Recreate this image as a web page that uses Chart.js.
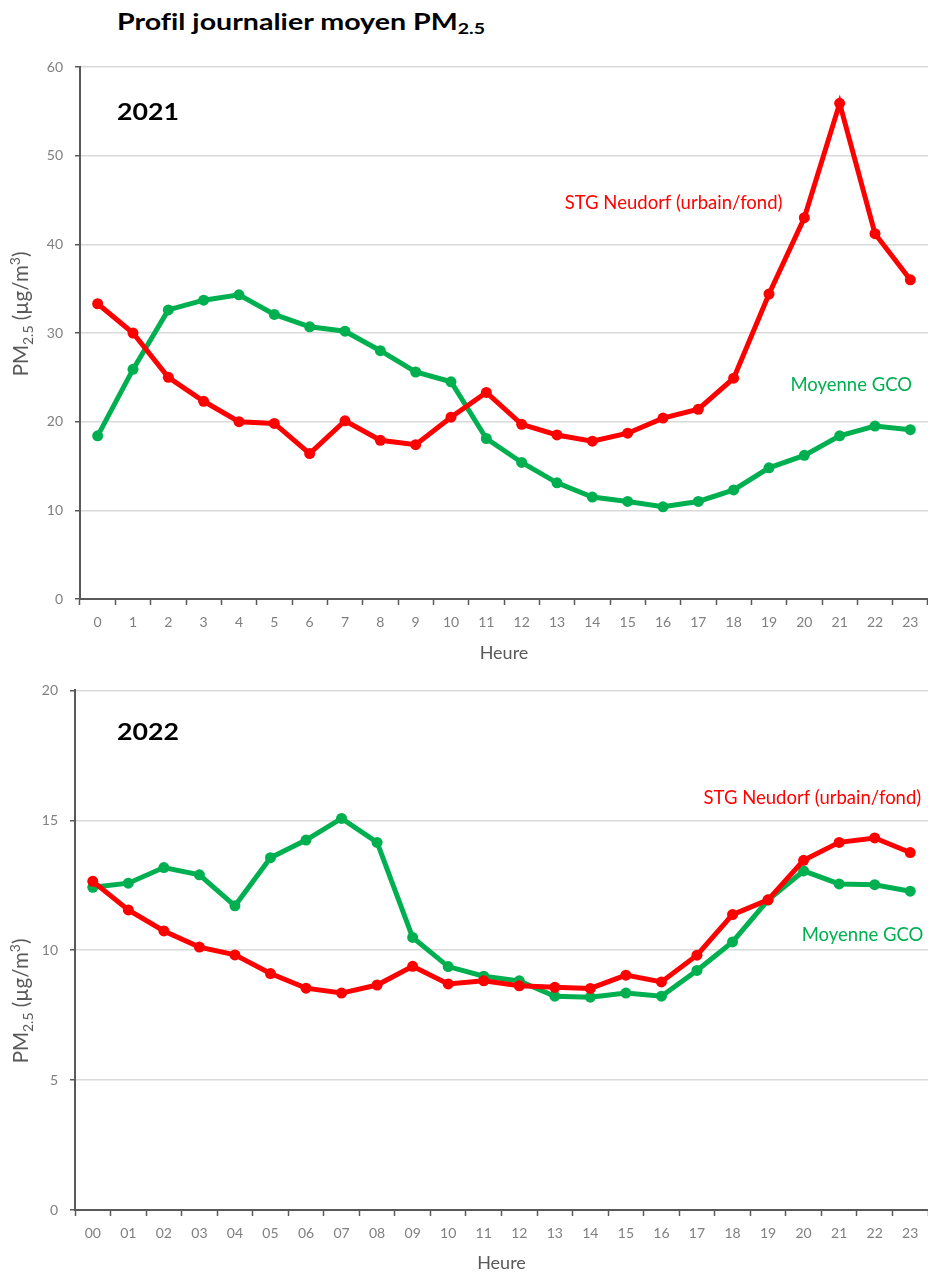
<!DOCTYPE html>
<html>
<head>
<meta charset="utf-8">
<script src="https://cdn.jsdelivr.net/npm/chart.js@4.4.0/dist/chart.umd.min.js"></script>
<style>
  body { margin: 0; background: #fff; width: 928px; height: 1274px; position: relative; overflow: hidden; font-family: Lato, sans-serif; }
  #title { position: absolute; left: 117px; top: 9px; font-weight: bold; font-size: 22px; line-height: 26px; color: #000; white-space: nowrap; transform: scaleX(1.3); transform-origin: 0 0; font-variant-ligatures: none; }
  #title sub { font-size: 15px; vertical-align: -4px; line-height: 0; }
  canvas { position: absolute; left: 0; }
  #c1 { top: 0; }
  #c2 { top: 670px; }
</style>
</head>
<body>
<div id="title">Profil journalier moyen PM<sub>2.5</sub></div>
<canvas id="c1" width="928" height="670"></canvas>
<canvas id="c2" width="928" height="604"></canvas>
<script>
// heures
const hours2021 = ['0', '1', '2', '3', '4', '5', '6', '7', '8', '9', '10', '11',
  '12', '13', '14', '15', '16', '17', '18', '19', '20', '21', '22', '23'];
const hours2022 = ['00', '01', '02', '03', '04', '05', '06', '07', '08', '09', '10', '11',
  '12', '13', '14', '15', '16', '17', '18', '19', '20', '21', '22', '23'];

// PM2.5 2021
const neudorf2021 = [33.3, 30.0, 25.0, 22.3, 20.0, 19.8, 16.4, 20.1, 17.9, 17.4, 20.5, 23.3,
  19.7, 18.5, 17.8, 18.7, 20.4, 21.4, 24.9, 34.4, 43.0, 55.9, 41.2, 36.0];
const gco2021 = [18.4, 25.9, 32.6, 33.7, 34.3, 32.1, 30.7, 30.2, 28.0, 25.6, 24.5, 18.1,
  15.4, 13.1, 11.5, 11.0, 10.4, 11.0, 12.3, 14.8, 16.2, 18.4, 19.5, 19.1];

// PM2.5 2022
const neudorf2022 = [12.65, 11.55, 10.74, 10.12, 9.82, 9.1, 8.54, 8.35, 8.66, 9.38, 8.7, 8.82,
  8.63, 8.57, 8.53, 9.04, 8.78, 9.81, 11.37, 11.94, 13.46, 14.15, 14.32, 13.76];
const gco2022 = [12.42, 12.58, 13.18, 12.9, 11.71, 13.56, 14.24, 15.07, 14.15, 10.49, 9.37, 9.0,
  8.82, 8.23, 8.19, 8.35, 8.23, 9.22, 10.32, 11.93, 13.05, 12.55, 12.52, 12.27];

const RED = '#ff0000';
const GREEN = '#00b050';
const AXIS = '#595959';

// textes dessines sur le canvas (annee, titre Y, etiquettes des series)
function textPlugin(opts) {
  return {
    id: 'texts',
    afterDraw(chart) {
      const ctx = chart.ctx;
      const xs = chart.scales.x, ys = chart.scales.y;
      const step = xs.getPixelForValue(1) - xs.getPixelForValue(0);
      const px = v => xs.getPixelForValue(0) + v * step;

      ctx.save();
      ctx.translate(117, opts.yearY);
      ctx.scale(1.16, 1);
      ctx.font = 'bold 23px Lato';
      ctx.fillStyle = '#000';
      ctx.textBaseline = 'middle';
      ctx.textAlign = 'left';
      ctx.fillText(opts.year, 0, 0);
      ctx.restore();

      ctx.save();
      ctx.textBaseline = 'middle';
      opts.labels.forEach(l => {
        ctx.font = '18.5px Lato';
        ctx.fillStyle = l.color;
        ctx.textAlign = l.align;
        ctx.fillText(l.text, px(l.x), ys.getPixelForValue(l.y));
      });

      // PM2.5 (µg/m3) vertical
      ctx.translate(21, opts.titleY);
      ctx.rotate(-Math.PI / 2);
      const big = '20.5px Lato', small = '14px Lato';
      const parts = [['PM', big, 0], ['2.5', small, 5], [' (\u00b5g/m', big, 0], ['3', small, -8], [')', big, 0]];
      let w = 0;
      parts.forEach(p => { ctx.font = p[1]; w += ctx.measureText(p[0]).width; });
      let x = -w / 2;
      ctx.fillStyle = AXIS;
      ctx.textAlign = 'left';
      ctx.textBaseline = 'alphabetic';
      parts.forEach(p => {
        ctx.font = p[1];
        ctx.fillText(p[0], x, 7 + p[2]);
        x += ctx.measureText(p[0]).width;
      });
      ctx.restore();
    }
  };
}

function makeChart(canvas, labels, red, green, cfg) {
  const line = (data, color) => ({
    data: data,
    borderColor: color,
    backgroundColor: color,
    borderWidth: 5,
    pointRadius: 5.5,
    pointBorderWidth: 0,
    tension: 0
  });
  return new Chart(canvas, {
    type: 'line',
    data: {
      labels: labels,
      datasets: [line(red, RED), line(green, GREEN)]
    },
    options: {
      responsive: false,
      animation: false,
      layout: { autoPadding: false, padding: { top: cfg.top, right: cfg.right, bottom: 0, left: 0 } },
      plugins: { legend: { display: false }, tooltip: { enabled: false } },
      scales: {
        x: {
          offset: true,
          afterFit: s => { s.height = cfg.xHeight; },
          grid: { display: true, drawOnChartArea: false, offset: true, tickLength: 6, tickColor: AXIS, tickWidth: 1.5 },
          border: { color: AXIS, width: 2 },
          ticks: { color: '#808080', font: { family: 'Lato', size: 14 }, padding: 9, maxRotation: 0, autoSkip: false },
          title: { display: true, text: 'Heure', color: AXIS, font: { family: 'Lato', size: 18 }, padding: { top: 0, bottom: cfg.titlePad } }
        },
        y: {
          min: 0,
          max: cfg.max,
          afterFit: s => { s.width = cfg.yWidth; },
          grid: { color: '#d9d9d9', lineWidth: 1.5, tickLength: 5, tickColor: AXIS, tickWidth: 1.5 },
          border: { color: AXIS, width: 2 },
          ticks: { stepSize: cfg.step, color: '#808080', font: { family: 'Lato', size: 14 }, padding: 12 }
        }
      }
    },
    plugins: [textPlugin(cfg)]
  });
}

makeChart(document.getElementById('c1'), hours2021, neudorf2021, gco2021, {
  top: 67, right: -5, xHeight: 71, yWidth: 80, max: 60, step: 10, titlePad: 6,
  year: '2021', yearY: 113, titleY: 314,
  labels: [
    { text: 'STG Neudorf (urbain/fond)', color: RED, align: 'center', x: 16.3, y: 44.7 },
    { text: 'Moyenne GCO', color: GREEN, align: 'right', x: 23.05, y: 24.1 }
  ]
});

makeChart(document.getElementById('c2'), hours2022, neudorf2022, gco2022, {
  top: 18, right: -2, xHeight: 64, yWidth: 75, max: 20, step: 5, titlePad: 0,
  year: '2022', yearY: 63, titleY: 331,
  labels: [
    { text: 'STG Neudorf (urbain/fond)', color: RED, align: 'right', x: 23.31, y: 15.86 },
    { text: 'Moyenne GCO', color: GREEN, align: 'right', x: 23.37, y: 10.57 }
  ]
});
</script>
</body>
</html>
